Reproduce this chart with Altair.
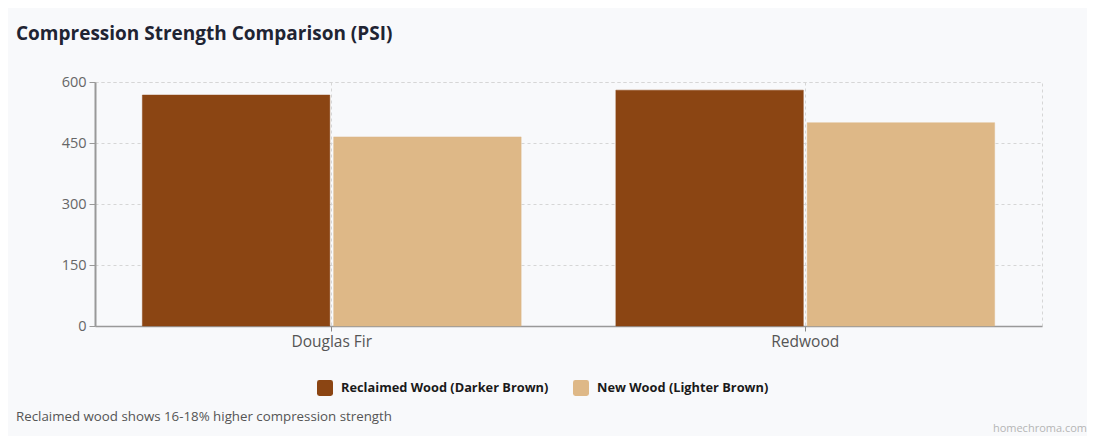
import altair as alt
import pandas as pd

species = ["Douglas Fir", "Redwood"]
series = ["Reclaimed Wood (Darker Brown)", "New Wood (Lighter Brown)"]
reclaimed = [568, 580]
new_wood = [465, 500]
colors = ["#8B4513", "#DEB887"]
y_ticks = [0, 150, 300, 450, 600]
title_text = "Compression Strength Comparison (PSI)"
note_text = "Reclaimed wood shows 16-18% higher compression strength"
credit_text = "homechroma.com"

rows = []
for i, sp in enumerate(species):
    rows.append({"species": sp, "type": series[0], "psi": reclaimed[i], "order": 0})
    rows.append({"species": sp, "type": series[1], "psi": new_wood[i], "order": 1})
df = pd.DataFrame(rows)

FONT = "Open Sans"
BG = "#f8f9fb"
W, H = 947, 244

rounded = "M-0.7,-1L0.7,-1Q1,-1,1,-0.7L1,0.7Q1,1,0.7,1L-0.7,1Q-1,1,-1,0.7L-1,-0.7Q-1,-1,-0.7,-1Z"

bars = alt.Chart(df).mark_bar(strokeWidth=1, strokeOpacity=0.45).encode(
    x=alt.X("species:N", sort=species, title=None,
            scale=alt.Scale(paddingInner=0.2, paddingOuter=0.1),
            axis=alt.Axis(labelAngle=0, labelFontSize=15.5, labelColor="#555555",
                          labelFont=FONT, labelPadding=3, tickSize=5, tickColor="#888888",
                          domainColor="#999999", domainWidth=1.5,
                          grid=True, gridDash=[3, 3], gridColor="#d6d6d6",
                          bandPosition=0.5)),
    xOffset=alt.XOffset("type:N", sort=series, scale=alt.Scale(paddingInner=0.02)),
    y=alt.Y("psi:Q", title=None,
            scale=alt.Scale(domain=[0, 600], nice=False),
            axis=alt.Axis(values=y_ticks, labelFontSize=14.5, labelColor="#666666",
                          labelFont=FONT, labelPadding=3, tickSize=6, tickColor="#999999",
                          domainColor="#999999", domainWidth=2,
                          grid=True, gridDash=[3, 3], gridColor="#d6d6d6")),
    color=alt.Color("type:N", sort=series,
                    scale=alt.Scale(domain=series, range=colors),
                    legend=alt.Legend(title=None, orient="none", direction="horizontal",
                                      legendX=222, legendY=298,
                                      symbolType=rounded, symbolSize=256,
                                      symbolStrokeWidth=0, symbolOpacity=1,
                                      labelFont=FONT, labelFontSize=12.8,
                                      labelFontWeight="bold", labelColor="#1a1a1a",
                                      labelLimit=0, labelOffset=8, columnPadding=24)),
    stroke=alt.Stroke("type:N", sort=series,
                      scale=alt.Scale(domain=series, range=colors), legend=None),
)

notes = pd.DataFrame({"t": [note_text]})
note = alt.Chart(notes).mark_text(
    align="left", baseline="middle", font=FONT, fontSize=13.3, color="#555555"
).encode(text="t:N", x=alt.value(-79), y=alt.value(335))

credits = pd.DataFrame({"t": [credit_text]})
credit = alt.Chart(credits).mark_text(
    align="right", baseline="middle", font=FONT, fontSize=11, color="#b5b5b5"
).encode(text="t:N", x=alt.value(992), y=alt.value(347))

chart = alt.layer(bars, note, credit).properties(
    width=W, height=H,
    title=alt.TitleParams(title_text, anchor="start", frame="group", dx=-79,
                          offset=30, font=FONT, fontSize=19, fontWeight="bold",
                          color="#1f2433"),
    padding={"left": 87, "top": 74, "right": 45, "bottom": 110},
    autosize=alt.AutoSizeParams(type="none"),
    background=BG,
).configure_view(
    stroke="#d6d6d6", strokeDash=[3, 3], strokeWidth=1
).configure_axis(
    labelFont=FONT
)

chart.save("out.html", embed_options={"renderer": "svg", "actions": False})
